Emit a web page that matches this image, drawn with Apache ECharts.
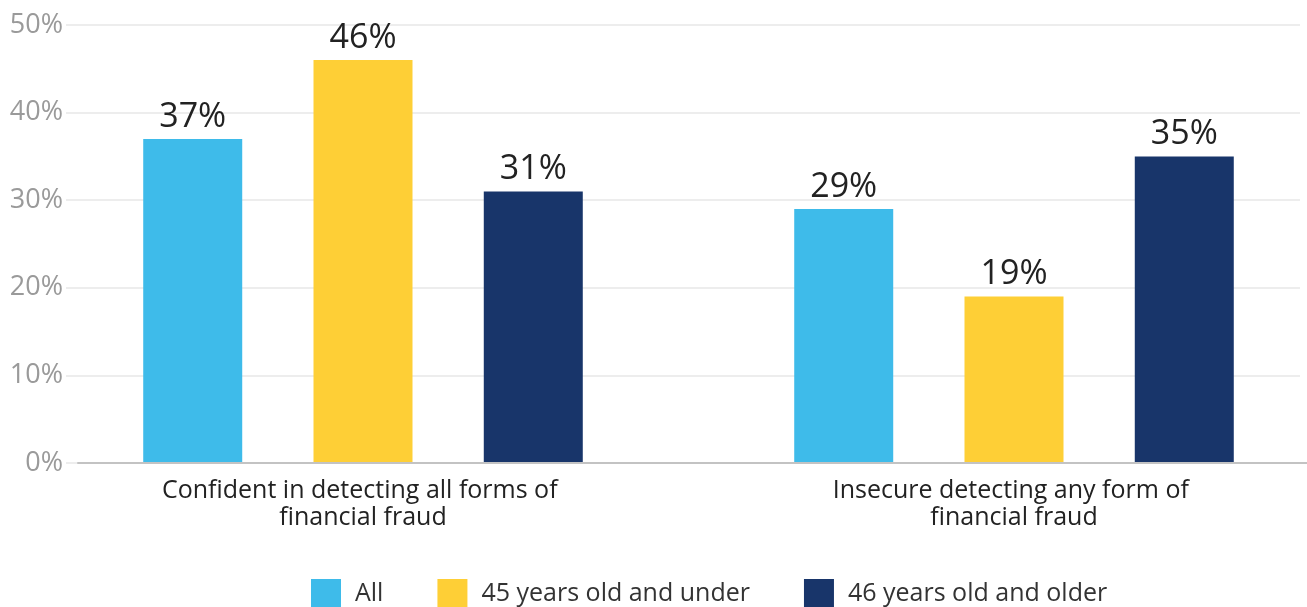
<!DOCTYPE html>
<html>
<head>
<meta charset="utf-8">
<script src="https://cdn.jsdelivr.net/npm/echarts@6/dist/echarts.min.js"></script>
<style>
  html, body { margin: 0; padding: 0; background: #ffffff; }
  #chart { width: 1307px; height: 607px; }
</style>
</head>
<body>
<div id="chart"></div>
<script>
// Survey groups and answers
const categories = [
  'Confident in detecting all forms of financial fraud',
  'Insecure detecting any form of financial fraud'
];
const seriesNames = ['All', '45 years old and under', '46 years old and older'];
const allValues = [37, 29];
const under45Values = [46, 19];
const over46Values = [31, 35];
const yTicks = [0, 10, 20, 30, 40, 50];

const colors = ['#3EBBEA', '#FECF36', '#18356A'];
const font = '"Open Sans", sans-serif';

const chart = echarts.init(document.getElementById('chart'), null, { renderer: 'canvas' });

const barSeries = [allValues, under45Values, over46Values].map((vals, i) => ({
  name: seriesNames[i],
  type: 'bar',
  xAxisIndex: 0,
  yAxisIndex: 0,
  data: vals,
  barWidth: 99,
  barGap: '72%',
  itemStyle: { color: colors[i] },
  label: {
    show: true,
    position: 'top',
    distance: 5,
    formatter: '{c}%',
    fontFamily: font,
    fontSize: 34,
    color: '#222222'
  },
  z: 3
}));

chart.setOption({
  animation: false,
  backgroundColor: '#ffffff',
  color: colors,
  grid: [
    // bars: the band runs past the right edge so the two groups sit where they should
    { left: 37.5, width: 1302, top: 25, bottom: 144, outerBoundsMode: 'none', containLabel: false },
    // gridlines and y labels
    { left: 66, right: 7, top: 25, bottom: 144, outerBoundsMode: 'none' },
    // baseline
    { left: 78, right: 0, top: 25, bottom: 144, outerBoundsMode: 'none' }
  ],
  xAxis: [
    {
      type: 'category',
      gridIndex: 0,
      data: categories,
      axisLine: { show: false },
      axisTick: { show: false },
      axisLabel: {
        margin: 14,
        fontFamily: font,
        fontSize: 25,
        lineHeight: 27,
        color: '#222222',
        width: 440,
        overflow: 'break',
        interval: 0
      }
    },
    { type: 'value', gridIndex: 1, show: false },
    {
      type: 'value',
      gridIndex: 2,
      axisLine: { show: true, lineStyle: { color: '#c3c3c3', width: 2 } },
      axisTick: { show: false },
      axisLabel: { show: false },
      splitLine: { show: false },
      z: 10
    }
  ],
  yAxis: [
    { type: 'value', gridIndex: 0, min: 0, max: 50, interval: 10, show: false },
    {
      type: 'value',
      gridIndex: 1,
      min: yTicks[0],
      max: yTicks[yTicks.length - 1],
      interval: 10,
      axisLine: { show: false },
      axisTick: { show: false },
      axisLabel: {
        formatter: '{value}%',
        margin: 3,
        fontFamily: font,
        fontSize: 27,
        color: '#9a9a9a',
        padding: [6, 0, 0, 0]
      },
      splitLine: { lineStyle: { color: '#ededed', width: 2 } }
    },
    { type: 'value', gridIndex: 2, min: 0, max: 50, show: false }
  ],
  legend: {
    data: seriesNames,
    top: 579,
    left: 311,
    padding: 0,
    itemWidth: 30,
    itemHeight: 30,
    itemGap: 54,
    icon: 'rect',
    textStyle: {
      fontFamily: font,
      fontSize: 25,
      color: '#333333',
      padding: [0, 0, 0, 9]
    }
  },
  series: barSeries
});
</script>
</body>
</html>
